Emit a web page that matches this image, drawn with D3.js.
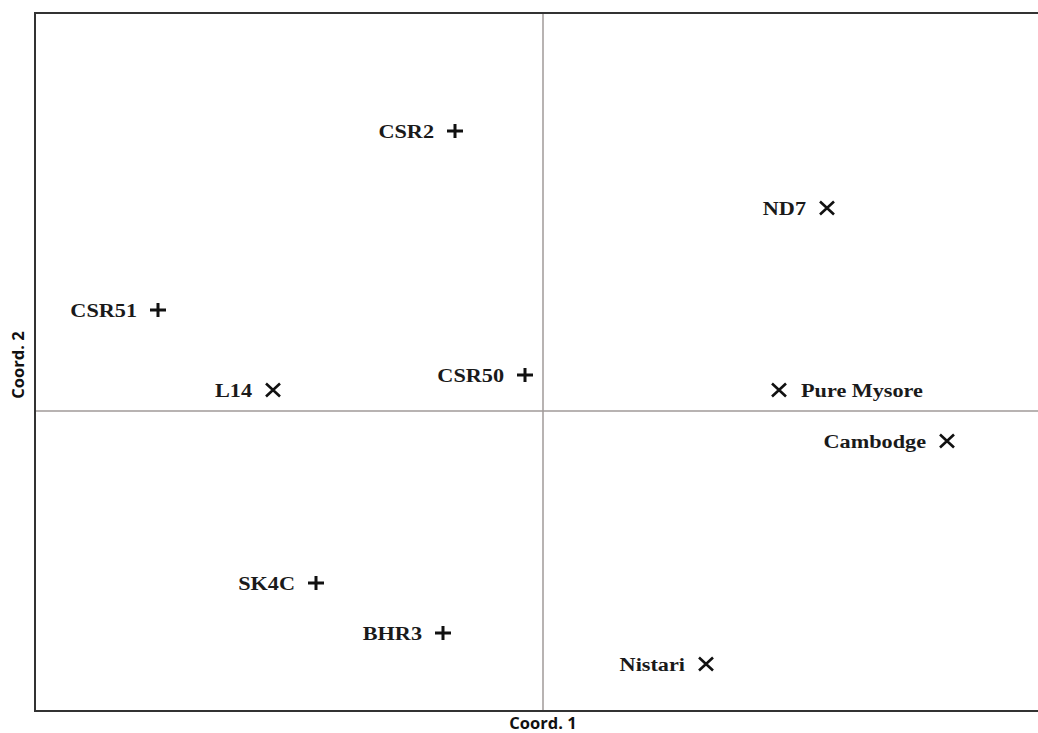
<!DOCTYPE html>
<html>
<head>
<meta charset="utf-8">
<script src="https://cdn.jsdelivr.net/npm/d3@7"></script>
<style>
  html, body { margin: 0; padding: 0; background: #fff; }
  svg { display: block; }
</style>
</head>
<body>
<svg id="chart" width="1038" height="733"></svg>
<script>
// Principal coordinates of the silkworm strains
const strains  = ["CSR2", "ND7", "CSR51", "L14", "CSR50", "Pure Mysore", "Cambodge", "SK4C", "BHR3", "Nistari"];
const coord1   = [-0.088, 0.284, -0.385, -0.270, -0.018, 0.236, 0.404, -0.227, -0.100, 0.163];
const coord2   = [0.280, 0.203, 0.101, 0.021, 0.036, 0.021, -0.030, -0.172, -0.222, -0.253];
const symbols  = ["plus", "cross", "plus", "cross", "plus", "cross", "cross", "plus", "plus", "cross"];
const labelPos = ["left", "left", "left", "left", "left", "right", "left", "left", "left", "left"];
const axisTitles = ["Coord. 1", "Coord. 2"];

const svg = d3.select("#chart");
const plotL = 35, plotT = 13, plotR = 1051, plotB = 711;

const x = d3.scaleLinear().domain([-0.508, 0.508]).range([plotL, plotR]);
const y = d3.scaleLinear().domain([-0.300, 0.398]).range([plotB, plotT]);

// zero lines
svg.append("line")
  .attr("x1", x(0)).attr("x2", x(0)).attr("y1", plotT).attr("y2", plotB)
  .attr("stroke", "#a09a98").attr("stroke-width", 1.5);
svg.append("line")
  .attr("x1", plotL).attr("x2", plotR).attr("y1", y(0)).attr("y2", y(0))
  .attr("stroke", "#a09a98").attr("stroke-width", 1.5);

// frame (left, top, bottom)
svg.append("path")
  .attr("d", `M${plotR},${plotT}H${plotL}V${plotB}H${plotR}`)
  .attr("fill", "none").attr("stroke", "#333").attr("stroke-width", 2);

const data = strains.map((s, i) => ({
  name: s, cx: coord1[i], cy: coord2[i], sym: symbols[i], pos: labelPos[i]
}));

const g = svg.append("g").selectAll("g").data(data).join("g")
  .attr("transform", d => `translate(${x(d.cx)},${y(d.cy)})`);

g.append("path")
  .attr("d", d => d.sym === "plus"
    ? "M-8,0H8M0,-7V7"
    : "M-7,-6.5L7,6.5M-7,6.5L7,-6.5")
  .attr("stroke", "#111").attr("stroke-width", d => d.sym === "plus" ? 3 : 2.6)
  .attr("fill", "none");

g.append("text")
  .text(d => d.name)
  .attr("transform", d => d.pos === "right" ? "translate(22,0) scale(1.14,1)" : "translate(-21,0) scale(1.14,1)")
  .attr("text-anchor", d => d.pos === "right" ? "start" : "end")
  .attr("dy", "0.35em")
  .attr("font-family", "'Liberation Serif', 'Times New Roman', serif")
  .attr("font-weight", "bold")
  .attr("font-size", 19.5)
  .attr("fill", "#1a1a1a");

// axis titles
svg.append("text")
  .text(axisTitles[0])
  .attr("x", x(0)).attr("y", 729)
  .attr("text-anchor", "middle")
  .attr("font-family", "'Open Sans', 'Noto Sans', sans-serif")
  .attr("font-weight", "bold").attr("font-size", 16.5).attr("fill", "#111");

svg.append("text")
  .text(axisTitles[1])
  .attr("transform", `translate(24,${y(0) - 46}) rotate(-90)`)
  .attr("text-anchor", "middle")
  .attr("font-family", "'Open Sans', 'Noto Sans', sans-serif")
  .attr("font-weight", "bold").attr("font-size", 16.5).attr("fill", "#111");
</script>
</body>
</html>
